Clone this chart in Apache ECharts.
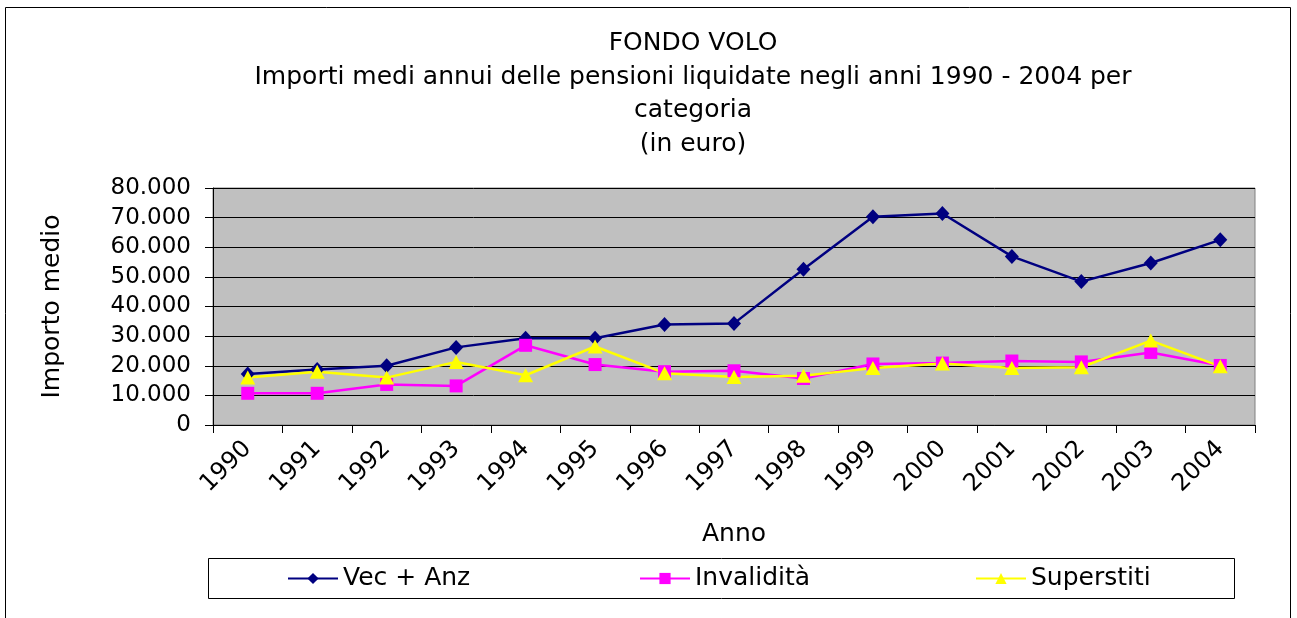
<!DOCTYPE html>
<html>
<head>
<meta charset="utf-8">
<script src="https://cdn.jsdelivr.net/npm/echarts@6/dist/echarts.min.js"></script>
<style>
html,body{margin:0;padding:0;background:#fff;}
#c{width:1297px;height:618px;}
</style>
</head>
<body>
<div id="c"></div>
<script>
var categories = ['1990','1991','1992','1993','1994','1995','1996','1997','1998','1999','2000','2001','2002','2003','2004'];
var vecAnz = [17200,18700,20000,26200,29300,29300,33900,34300,52600,70300,71400,56900,48400,54700,62500];
var invalidita = [10700,10700,13700,13200,26900,20400,18000,18300,15700,20600,20900,21600,21300,24500,20100];
var superstiti = [16000,18000,16000,21300,16800,26500,17500,16200,16600,19200,20800,19200,19500,28500,19800];
var seriesNames = ['Vec + Anz','Invalidità','Superstiti'];
var titleText = 'FONDO VOLO\nImporti medi annui delle pensioni liquidate negli anni 1990 - 2004 per\ncategoria\n(in euro)';

var FONT = 'DejaVu Sans';
function fmt(v){ return String(v).replace(/\B(?=(\d{3})+(?!\d))/g,'.'); }

var chart = echarts.init(document.getElementById('c'));
var legendBase = {
  orient:'horizontal', padding:0, itemWidth:50, itemHeight:14, itemGap:0,
  textStyle:{fontFamily:FONT,fontSize:25,color:'#000',lineHeight:25},
  top:566, selectedMode:false
};
chart.setOption({
  animation:false,
  backgroundColor:'#fff',
  title:{
    text:titleText, left:688, top:22, textAlign:'center',
    textStyle:{fontFamily:FONT,fontSize:25,fontWeight:'normal',color:'#000',lineHeight:33.5}
  },
  legend:[
    Object.assign({}, legendBase, {data:[seriesNames[0]], left:287}),
    Object.assign({}, legendBase, {data:[seriesNames[1]], left:639}),
    Object.assign({}, legendBase, {data:[seriesNames[2]], left:975})
  ],
  grid:{left:213,right:42,top:188,bottom:193,show:true,backgroundColor:'#C0C0C0',borderColor:'#808080',borderWidth:1},
  xAxis:{
    type:'category', data:categories, boundaryGap:true,
    name:'Anno', nameLocation:'middle', nameGap:97,
    nameTextStyle:{fontFamily:FONT,fontSize:25,color:'#000'},
    axisLine:{lineStyle:{color:'#000',width:1}},
    axisTick:{show:true,length:8,lineStyle:{color:'#000'}},
    axisLabel:{rotate:45,margin:20,fontFamily:FONT,fontSize:24,color:'#000',interval:0}
  },
  yAxis:{
    type:'value', min:0, max:80000, interval:10000,
    name:'Importo medio', nameLocation:'middle', nameGap:148,
    nameTextStyle:{fontFamily:FONT,fontSize:25,color:'#000'},
    axisLine:{show:true,lineStyle:{color:'#000',width:1}},
    axisTick:{show:true,length:8,lineStyle:{color:'#000'}},
    axisLabel:{margin:22,fontFamily:FONT,fontSize:23,color:'#000',formatter:fmt},
    splitLine:{show:true,lineStyle:{color:'#000',width:1}}
  },
  graphic:[
    {type:'rect',shape:{x:5.5,y:7.5,width:1285,height:640},style:{fill:null,stroke:'#000',lineWidth:1},z:-1,silent:true},
    {type:'rect',shape:{x:208.5,y:558.5,width:1026,height:40},style:{fill:null,stroke:'#000',lineWidth:1},z:-1,silent:true}
  ],
  series:[
    {name:seriesNames[0],type:'line',data:vecAnz,symbol:'diamond',symbolSize:[14,15],
     lineStyle:{color:'#000080',width:2.5},itemStyle:{color:'#000080'}},
    {name:seriesNames[1],type:'line',data:invalidita,symbol:'rect',symbolSize:13,
     lineStyle:{color:'#FF00FF',width:2.5},itemStyle:{color:'#FF00FF'}},
    {name:seriesNames[2],type:'line',data:superstiti,symbol:'triangle',symbolSize:[15,14],
     lineStyle:{color:'#FFFF00',width:2.5},itemStyle:{color:'#FFFF00'}}
  ]
});
</script>
</body>
</html>
